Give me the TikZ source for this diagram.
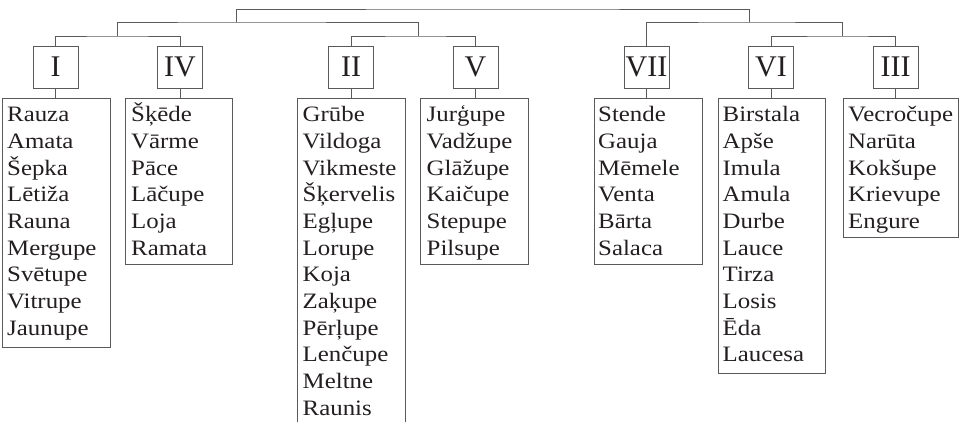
\documentclass[tikz,border=0pt]{standalone}
\usepackage{fontspec}
\setmainfont{Liberation Serif}[FakeStretch=1.13]
\newfontfamily\numfont{Liberation Serif}
\definecolor{linegray}{HTML}{5A5A5A}
\definecolor{inkc}{HTML}{231F20}
\newcommand\rivlist[1]{\vtop{\lineskiplimit=-100pt\baselineskip=26.7pt\halign{##\hfil\cr#1\crcr}}}
\tikzset{
  numbox/.style={draw=linegray, line width=0.8pt, minimum width=45pt, minimum height=42pt,
    inner sep=0pt, font=\numfont\fontsize{30}{36}\selectfont, text=inkc},
  listbox/.style={draw=linegray, line width=0.8pt, anchor=north west, inner sep=0pt},
  listtext/.style={anchor=base west, inner sep=0pt, font=\fontsize{22}{26.7}\selectfont, text=inkc},
  conn/.style={draw=linegray, line width=0.8pt}
}
\begin{document}
\begin{tikzpicture}[x=1pt,y=-1pt]
\clip (0,0) rectangle (962,422);
\useasboundingbox (0,0) rectangle (962,422);
% numeral boxes
\node[numbox] (nI)   at (55.5,67) {I};
\node[numbox] (nIV)  at (180,67)  {IV};
\node[numbox] (nII)  at (351,67)  {II};
\node[numbox] (nV)   at (475.5,67){V};
\node[numbox] (nVII) at (646.5,67){VII};
\node[numbox] (nVI)  at (771,67)  {VI};
\node[numbox] (nIII) at (895.5,67){III};
% junctions
\coordinate (jA) at (117,36);
\coordinate (jB) at (418,36);
\coordinate (jC) at (842,36);
\coordinate (jL) at (236,22);
\coordinate (jR) at (749,22);
\coordinate (jT) at (492.5,9);
\draw[conn] (nI.north) |- (jA) -| (nIV.north);
\draw[conn] (nII.north) |- (jB) -| (nV.north);
\draw[conn] (nVI.north) |- (jC) -| (nIII.north);
\draw[conn] (jA) |- (jL) -| (jB);
\draw[conn] (nVII.north) |- (jR) -| (jC);
\draw[conn] (jL) |- (jT) -| (jR);
% list boxes
\node[listbox, minimum width=108pt, minimum height=249pt] (lI)   at (2,98) {};
\node[listbox, minimum width=107pt, minimum height=166pt] (lIV)  at (125,98) {};
\node[listbox, minimum width=108pt, minimum height=330pt] (lII)  at (297,98) {};
\node[listbox, minimum width=108pt, minimum height=166pt] (lV)   at (420,98) {};
\node[listbox, minimum width=108pt, minimum height=166pt] (lVII) at (594,98) {};
\node[listbox, minimum width=107pt, minimum height=275pt] (lVI)  at (718,98) {};
\node[listbox, minimum width=115pt, minimum height=139pt] (lIII) at (843,98) {};
% connectors numeral -> list
\draw[conn] (nI.south) -- (nI.south |- lI.north);
\draw[conn] (nIV.south) -- (nIV.south |- lIV.north);
\draw[conn] (nII.south) -- (nII.south |- lII.north);
\draw[conn] (nV.south) -- (nV.south |- lV.north);
\draw[conn] (nVII.south) -- (nVII.south |- lVII.north);
\draw[conn] (nVI.south) -- (nVI.south |- lVI.north);
\draw[conn] (nIII.south) -- (nIII.south |- lIII.north);
% texts
\node[listtext] (tI) at (7,121.7) {\rivlist{Rauza\cr Amata\cr Šepka\cr Lētiža\cr Rauna\cr Mergupe\cr Svētupe\cr Vitrupe\cr Jaunupe}};
\node[listtext] (tIV) at (131,121.7) {\rivlist{Šķēde\cr Vārme\cr Pāce\cr Lāčupe\cr Loja\cr Ramata}};
\node[listtext] (tII) at (302.5,121.7) {\rivlist{Grūbe\cr Vildoga\cr Vikmeste\cr Šķervelis\cr Egļupe\cr Lorupe\cr Koja\cr Zaķupe\cr Pērļupe\cr Lenčupe\cr Meltne\cr Raunis}};
\node[listtext] (tV) at (426.5,121.7) {\rivlist{Jurģupe\cr Vadžupe\cr Glāžupe\cr Kaičupe\cr Stepupe\cr Pilsupe}};
\node[listtext] (tVII) at (598,121.7) {\rivlist{Stende\cr Gauja\cr Mēmele\cr Venta\cr Bārta\cr Salaca}};
\node[listtext] (tVI) at (722.5,121.7) {\rivlist{Birstala\cr Apše\cr Imula\cr Amula\cr Durbe\cr Lauce\cr Tirza\cr Losis\cr Ēda\cr Laucesa}};
\node[listtext] (tIII) at (848,121.7) {\rivlist{Vecročupe\cr Narūta\cr Kokšupe\cr Krievupe\cr Engure}};
\end{tikzpicture}
\end{document}
